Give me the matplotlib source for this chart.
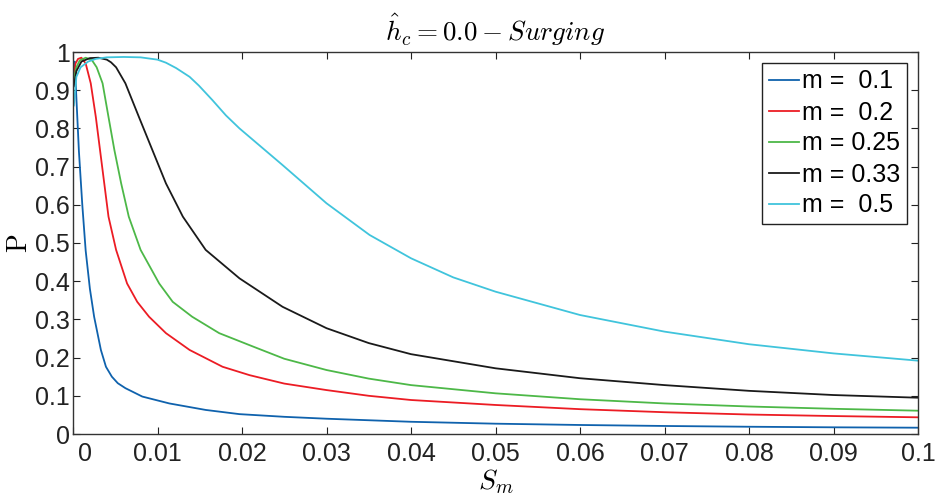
import numpy as np
import matplotlib
matplotlib.use("Agg")
import matplotlib.pyplot as plt
import matplotlib.transforms as mtransforms

plt.rcParams['font.family'] = ['Liberation Sans', 'DejaVu Sans']
plt.rcParams['mathtext.fontset'] = 'cm'

# values
labels = ['m =  0.1', 'm =  0.2', 'm = 0.25', 'm = 0.33', 'm =  0.5']
colors = ['#0f62ad', '#ec1c24', '#4db848', '#1a1a1a', '#40c4dc']

x_m01 = [0.0001, 0.0002, 0.0004, 0.0007, 0.0011, 0.0015, 0.002, 0.0025, 0.0033, 0.0039,
         0.0046, 0.0053, 0.0062, 0.0082, 0.0098, 0.0114, 0.0157, 0.0197, 0.025, 0.03,
         0.04, 0.05, 0.06, 0.07, 0.08, 0.09, 0.1]
p_m01 = [0.96, 0.975, 0.88, 0.74, 0.60, 0.48, 0.38, 0.307, 0.22, 0.176,
         0.15, 0.133, 0.12, 0.098, 0.089, 0.08, 0.063, 0.052, 0.045, 0.04,
         0.032, 0.027, 0.0236, 0.021, 0.019, 0.0175, 0.0165]

x_m02 = [0.0001, 0.0003, 0.0006, 0.001, 0.0015, 0.0021, 0.0027, 0.0032, 0.0037, 0.0042,
         0.0051, 0.0064, 0.0076, 0.009, 0.011, 0.0138, 0.0177, 0.0209, 0.025, 0.03,
         0.035, 0.04, 0.05, 0.06, 0.07, 0.08, 0.09, 0.1]
p_m02 = [0.94, 0.97, 0.982, 0.985, 0.97, 0.918, 0.83, 0.743, 0.656, 0.569,
         0.482, 0.394, 0.346, 0.307, 0.264, 0.22, 0.176, 0.154, 0.132, 0.115,
         0.1, 0.089, 0.076, 0.065, 0.057, 0.051, 0.047, 0.0437]

x_m025 = [0.0001, 0.0004, 0.0008, 0.0015, 0.0022, 0.0028, 0.0035, 0.0042, 0.0049, 0.0057,
          0.0066, 0.008, 0.0102, 0.0118, 0.0141, 0.0173, 0.0213, 0.025, 0.03, 0.035,
          0.04, 0.05, 0.06, 0.07, 0.08, 0.09, 0.1]
p_m025 = [0.93, 0.96, 0.978, 0.985, 0.98, 0.96, 0.918, 0.83, 0.743, 0.656,
          0.569, 0.482, 0.394, 0.346, 0.307, 0.264, 0.229, 0.197, 0.1675, 0.145,
          0.128, 0.1065, 0.091, 0.08, 0.072, 0.066, 0.061]

x_m033 = [0.0001, 0.0004, 0.001, 0.002, 0.003, 0.004, 0.0045, 0.0051, 0.0062, 0.0078,
          0.0094, 0.011, 0.013, 0.0157, 0.0197, 0.0248, 0.03, 0.035, 0.04, 0.05,
          0.06, 0.07, 0.08, 0.09, 0.1]
p_m033 = [0.91, 0.95, 0.975, 0.984, 0.985, 0.98, 0.973, 0.96, 0.918, 0.83,
          0.743, 0.656, 0.569, 0.482, 0.4075, 0.333, 0.277, 0.238, 0.209, 0.172,
          0.146, 0.128, 0.113, 0.102, 0.095]

x_m05 = [0.0001, 0.0004, 0.0009, 0.0018, 0.0027, 0.004, 0.006, 0.008, 0.01, 0.011,
         0.0122, 0.0138, 0.0149, 0.0165, 0.0181, 0.0197, 0.0248, 0.03, 0.0351, 0.04,
         0.045, 0.05, 0.06, 0.07, 0.08, 0.09, 0.1]
p_m05 = [0.86, 0.935, 0.96, 0.975, 0.982, 0.986, 0.987, 0.986, 0.98, 0.972,
         0.958, 0.935, 0.912, 0.874, 0.834, 0.80, 0.704, 0.604, 0.521, 0.46,
         0.41, 0.3726, 0.3115, 0.268, 0.235, 0.211, 0.192]

xs = [x_m01, x_m02, x_m025, x_m033, x_m05]
ps = [p_m01, p_m02, p_m025, p_m033, p_m05]

fig = plt.figure(figsize=(9.42, 4.95), dpi=100)
ax = fig.add_axes([73 / 942, 61 / 495, 845 / 942, 382 / 495])

for x, p, lab, c in zip(xs, ps, labels, colors):
    ax.plot(x, p, color=c, lw=1.3, label=lab)

ax.set_xlim(0, 0.1)
ax.set_ylim(0, 1)
ax.set_xticks(np.arange(0, 0.1001, 0.01))
ax.set_xticklabels(['0'] + ['%g' % v for v in np.arange(0.01, 0.1001, 0.01)])
ax.set_yticks(np.arange(0, 1.001, 0.1))
ax.set_yticklabels(['0'] + ['%g' % round(v, 1) for v in np.arange(0.1, 1.001, 0.1)])
ax.tick_params(direction='in', length=5, width=0.8, top=True, right=True,
               labelsize=18, colors='#222222', pad=2)
ax.tick_params(axis='x', pad=6)
for s in ax.spines.values():
    s.set_color('#333333')
    s.set_linewidth(1.0)

# the first x label sits a bit to the right in the reference
off = mtransforms.ScaledTranslation(12 / 100, 0, fig.dpi_scale_trans)
lbl0 = ax.get_xticklabels()[0]
lbl0.set_transform(lbl0.get_transform() + off)

ax.set_xlabel(r'$S_m$', fontsize=20, labelpad=1)
ax.set_ylabel(r'$\mathrm{P}$', fontsize=20, labelpad=2)
ax.set_title(r'$\hat{h}_c = 0.0 - Surging$', fontsize=19.5, pad=8)

leg = ax.legend(loc='upper right', fontsize=18, frameon=True, fancybox=False,
                edgecolor='#222222', handlelength=1.2, handletextpad=0.15,
                labelspacing=0.28, borderpad=0.25, borderaxespad=0.45,
                framealpha=1)
leg.get_frame().set_linewidth(1.0)

fig.savefig('out.png', dpi=100)
